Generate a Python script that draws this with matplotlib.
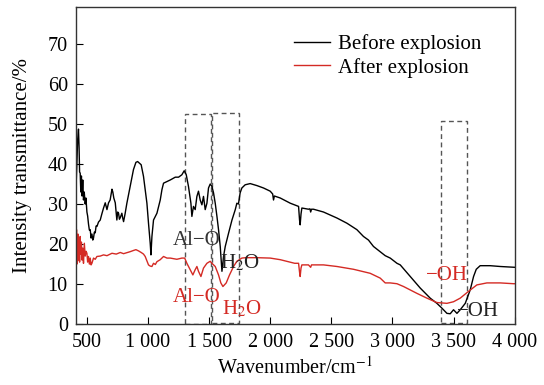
import matplotlib
matplotlib.use("Agg")
import matplotlib.pyplot as plt
from matplotlib.patches import Rectangle

plt.rcParams['font.family'] = ['Liberation Serif', 'DejaVu Serif']
plt.rcParams['mathtext.fontset'] = 'stix'

# FTIR spectra, wavenumber (cm-1) vs transmittance (%)
wn_before = [412, 418, 424, 431, 436, 440, 445, 450, 455, 460, 466, 472, 478, 486, 492,
             500, 506, 513, 520, 527, 534, 541, 548, 554, 561, 568, 575, 582, 595, 609,
             622, 636, 650, 664, 677, 690, 705, 712, 720, 732, 745, 752, 759, 766, 773,
             786, 793, 800, 812, 827, 854, 881, 901, 915, 922, 944, 963, 977, 991, 1004,
             1018, 1024, 1032, 1045, 1073, 1100, 1114, 1127, 1155, 1182, 1223, 1250, 1277,
             1296, 1313, 1331, 1351, 1359, 1372, 1386, 1400, 1413, 1427, 1441, 1454, 1468,
             1482, 1495, 1509, 1523, 1536, 1550, 1564, 1577, 1591, 1605, 1618, 1632, 1659,
             1687, 1714, 1727, 1740, 1754, 1768, 1795, 1836, 1891, 1945, 2000, 2020, 2027,
             2034, 2082, 2164, 2232, 2240, 2245, 2252, 2259, 2313, 2325, 2331, 2338, 2354,
             2436, 2546, 2628, 2709, 2763, 2804, 2845, 2900, 2941, 2982, 3037, 3064, 3146,
             3228, 3309, 3364, 3405, 3446, 3473, 3500, 3528, 3555, 3596, 3637, 3664, 3686,
             3718, 3800, 3882, 3991, 4000]
t_before = [35, 40, 46, 48.7, 44, 38, 37.7, 33, 37, 32, 36, 31, 33, 30, 31.5,
            28, 27, 25, 23.5, 23.6, 21.5, 22.5, 21, 21.5, 23, 22.8, 24.5, 24.4, 25.5, 26,
            27.5, 29, 30.3, 28.6, 30.3, 31, 33.7, 33, 31.5, 30.3, 26, 28, 27.7, 26.2, 26.6,
            27.7, 26.5, 25.6, 27.5, 30.2, 34.4, 38.6, 40.4, 40.6, 40.4, 39.8, 36.9, 33.6, 30.2, 25.2,
            20.2, 17.3, 21.9, 26, 27.7, 31, 33.6, 35.2, 35.6, 36, 36.7, 36.7, 37.3,
            38.3, 37.3, 34.4, 30.2, 26.9, 29.4, 28.6, 31.9, 33.2, 31, 29.8, 31.9, 28.6,
            30.2, 34, 35, 34.4, 32.8, 30.2, 26.9, 23.6, 19.4, 13.2, 16.9, 19.4, 22.7,
            26, 28.6, 30.2, 30, 32.8, 34, 34.8, 35.1, 34.6, 34, 33.2, 32.5, 31,
            32, 31.5, 30.2, 29.4, 26, 24.8, 27.5, 29, 28.7, 28.8, 28, 28.7, 28.7,
            28, 26.5, 25.2, 23.6, 21.9, 21, 19.4, 18.1, 17.1, 16.5, 15.2, 14.8, 11.9,
            9, 6.5, 5.2, 4, 2.7, 2.6, 3.6, 2.7, 3.6, 5.2, 8.6, 11.9, 13.7,
            14.6, 14.6, 14.4, 14.2, 14.2]

wn_after = [412, 415, 418, 421, 424, 427, 431, 436, 440, 445, 450, 455, 460, 466, 472,
            479, 486, 493, 500, 506, 513, 520, 527, 534, 541, 554, 568, 582, 609, 636,
            664, 705, 740, 773, 800, 854, 881, 901, 922, 944, 963, 977, 991, 1004, 1018,
            1032, 1045, 1060, 1073, 1100, 1127, 1155, 1182, 1236, 1277, 1300, 1318, 1345,
            1367, 1386, 1400, 1413, 1433, 1454, 1482, 1509, 1523, 1550, 1577, 1596, 1613,
            1640, 1667, 1700, 1727, 1768, 1800, 1891, 2000, 2082, 2200, 2232, 2240, 2245,
            2252, 2259, 2313, 2331, 2338, 2436, 2546, 2682, 2818, 2900, 2941, 2982, 3037,
            3091, 3200, 3282, 3364, 3446, 3500, 3555, 3623, 3691, 3773, 3882, 3991, 4000]
t_after = [19, 23.6, 15, 21.9, 17, 22.5, 16, 21, 15.5, 21.9, 17.5, 20.5, 16, 19, 15.2,
           20.2, 17, 18.2, 17.7, 15.5, 16.9, 15, 16.5, 14.8, 15.2, 16.5, 16.2, 16.9, 17, 17.3,
           17.1, 17.7, 17.5, 17.9, 17.6, 18.1, 18.4, 18.6, 18.3, 17.9, 17.5, 16.9, 15.8, 14.8, 14.5,
           14.4, 15.2, 14.9, 15.6, 16.1, 16.9, 16.5, 16.5, 16.2, 16.5, 16.5, 15.2, 13.6,
           12.3, 13.6, 14.4, 13.2, 11.9, 14, 15.2, 15.7, 15.2, 14.4, 12.3, 10.3, 9.4,
           10.3, 12.3, 14.4, 15.7, 16.5, 16.6, 16.6, 16.5, 16.1, 15.2, 15.2, 13, 11.9,
           14, 14.8, 14.8, 14.2, 14.8, 14.8, 14.4, 13.7, 12.7, 11.5, 10.3, 10.3, 10.1,
           9.4, 7.7, 6.5, 5.4, 5.2, 5.6, 6.5, 8.2, 9.8, 10.3, 10.3, 10.1, 10.1]

# absorption bands marked with dashed boxes: (start, end, top)
bands = [(1299, 1515, 52.5), (1523, 1741, 52.7), (3397, 3610, 50.7)]

xticks = [500, 1000, 1500, 2000, 2500, 3000, 3500, 4000]
xticklabels = ['500', '1 000', '1 500', '2 000', '2 500', '3 000', '3 500', '4 000']

red = '#d42a24'

fig = plt.figure(figsize=(5.44, 3.85), dpi=100)
ax = fig.add_axes([0.14, 0.158, 0.806, 0.825])

ax.plot(wn_before, t_before, color='black', lw=1.0, label='Before explosion')
ax.plot(wn_after, t_after, color=red, lw=1.0, label='After explosion')

for i, (x0, x1, top) in enumerate(bands):
    bottom = 0 if i == 0 else 0.3
    ax.add_patch(Rectangle((x0, bottom), x1 - x0, top - bottom, fill=False,
                           ec='#555555', lw=1.0, ls=(0, (3.5, 2.5))))

fs = 15
ax.text(1399, 21, 'Al\u2212O', color='#333333', fontsize=fs, ha='center', va='center')
ax.text(1591, 15.3, 'H$_2$O', color='#222222', fontsize=fs, ha='left', va='center')
ax.text(1399, 6.6, 'Al\u2212O', color=red, fontsize=fs, ha='center', va='center')
ax.text(1605, 3.8, 'H$_2$O', color=red, fontsize=fs, ha='left', va='center')
ax.text(3444, 12.2, '\u2212OH', color=red, fontsize=fs, ha='center', va='center')
ax.text(3525, 3.2, '\u2212OH', color='#222222', fontsize=fs, ha='left', va='center')

ax.set_xlim(412, 4000)
ax.set_ylim(0, 79.3)
ax.set_xticks(xticks)
ax.set_xticklabels(xticklabels)
ax.set_yticks(range(0, 80, 10))
ax.tick_params(direction='in', length=5, labelsize=14.5, top=False, right=False, pad=6)
for s in ax.spines.values():
    s.set_linewidth(1.0)
    s.set_color('#333333')

ax.set_xlabel('Wavenumber/cm$^{-1}$', fontsize=14.5, labelpad=4)
ax.set_ylabel('Intensity transmittance/%', fontsize=fs, labelpad=11)

ax.legend(loc='upper left', bbox_to_anchor=(0.477, 0.938), frameon=False, fontsize=fs,
          handlelength=1.75, handletextpad=0.4, labelspacing=0.15, borderaxespad=0)

fig.savefig('out.png', dpi=100)
